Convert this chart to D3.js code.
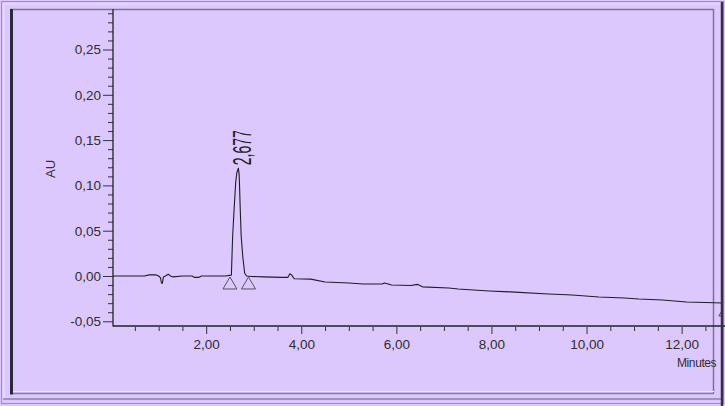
<!DOCTYPE html>
<html>
<head>
<meta charset="utf-8">
<script src="https://cdn.jsdelivr.net/npm/d3@7"></script>
<style>
  html, body { margin: 0; padding: 0; background: #dcc8fc; }
  svg { display: block; font-family: "Liberation Sans", Arial, sans-serif; }
</style>
</head>
<body>
<div id="chart"></div>
<script>
// chromatogram trace (minutes, AU)
const time = [
  0.04, 0.40, 0.70, 0.80, 0.95, 1.00, 1.04, 1.06, 1.08, 1.10, 1.16, 1.20, 1.25, 1.30, 1.50,
  1.70, 1.75, 1.85, 1.90, 2.20, 2.40, 2.53, 2.555, 2.58, 2.62, 2.645, 2.677, 2.695,
  2.715, 2.735, 2.77, 2.81, 2.85, 2.95, 3.20, 3.60, 3.72, 3.76, 3.80, 3.85, 4.20,
  4.50, 5.00, 5.30, 5.70, 5.75, 5.90, 6.30, 6.45, 6.55, 7.10, 7.30, 7.95, 8.40,
  9.20, 9.70, 10.26, 10.80, 11.10, 11.60, 12.10, 12.50, 12.87
];
const absorbance = [
  0.000, 0.000, 0.000, 0.0012, 0.0012, 0.000, -0.002, -0.008, -0.008, -0.001, 0.0005, 0.002, 0.000, -0.001, 0.000,
  0.000, -0.0015, -0.0015, 0.000, 0.000, 0.000, 0.001, 0.042, 0.067, 0.103, 0.114, 0.119, 0.111,
  0.076, 0.045, 0.021, 0.003, 0.000, -0.0005, -0.001, -0.0015, -0.0015, 0.0025, 0.001, -0.003, -0.0035,
  -0.0066, -0.0077, -0.0088, -0.0088, -0.0077, -0.0099, -0.0105, -0.0093, -0.012, -0.0132, -0.0143, -0.0165, -0.0175,
  -0.0199, -0.021, -0.0232, -0.0243, -0.0254, -0.0265, -0.0287, -0.0292, -0.0298
];

// integration markers (peak start / end)
const markerTimes = [2.50, 2.89, 12.93];
const markerValues = [0.000, 0.000, -0.0298];

// peak labels
const peakTimes = [2.677];
const peakHeights = [0.119];
const peakLabels = ["2,677"];

const yTicks = [-0.05, 0.00, 0.05, 0.10, 0.15, 0.20, 0.25];
const xTicks = [2, 4, 6, 8, 10, 12];

const width = 725;
const height = 406;

const svg = d3.select("#chart")
  .append("svg")
  .attr("width", width)
  .attr("height", height);

svg.append("rect")
  .attr("width", width)
  .attr("height", height)
  .attr("fill", "#dcc8fc");

// bevelled window frame
const frame = svg.append("g").attr("fill", "none");
frame.append("rect")
  .attr("x", 1.5).attr("y", 1.5)
  .attr("width", 722).attr("height", 402)
  .attr("stroke", "#9a90b4");
frame.append("line")
  .attr("x1", 3).attr("x2", 722).attr("y1", 4).attr("y2", 4)
  .attr("stroke", "#eee4ff");
frame.append("line")
  .attr("x1", 4).attr("x2", 4).attr("y1", 4).attr("y2", 400)
  .attr("stroke", "#eee4ff");
frame.append("line")
  .attr("x1", 10).attr("x2", 714).attr("y1", 9.5).attr("y2", 9.5)
  .attr("stroke", "#7d7592").attr("stroke-width", 1.5);
frame.append("line")
  .attr("x1", 713.5).attr("x2", 713.5).attr("y1", 9).attr("y2", 393.5)
  .attr("stroke", "#7d7592").attr("stroke-width", 1.5);
frame.append("line")
  .attr("x1", 12).attr("x2", 714).attr("y1", 391.5).attr("y2", 391.5)
  .attr("stroke", "#f2eaff");
frame.append("line")
  .attr("x1", 12).attr("x2", 714).attr("y1", 393.5).attr("y2", 393.5)
  .attr("stroke", "#857d9c").attr("stroke-width", 1.5);
frame.append("line")
  .attr("x1", 3).attr("x2", 722).attr("y1", 399).attr("y2", 399)
  .attr("stroke", "#8a82a2").attr("stroke-width", 1.5);
frame.append("line")
  .attr("x1", 11.5).attr("x2", 11.5).attr("y1", 9).attr("y2", 394.5)
  .attr("stroke", "#2b2a3a").attr("stroke-width", 3);

const xScale = d3.scaleLinear().domain([0.04, 12.87]).range([113, 723]);
const yScale = d3.scaleLinear().domain([-0.0552, 0.2947]).range([326, 9]);

const fmt = (d) => d3.format(".2f")(d).replace(".", ",").replace("\u2212", "-");

// y axis: majors every 0.05, minors every 0.01
const yAxis = d3.axisLeft(yScale)
  .tickValues(yTicks)
  .tickSize(10)
  .tickPadding(2)
  .tickFormat(fmt);
const yMinor = d3.axisLeft(yScale)
  .tickValues(d3.range(-5, 30).map((i) => i / 100).filter((v) => Math.round(v * 100) % 5 !== 0))
  .tickSize(5)
  .tickFormat("");

svg.append("g")
  .attr("transform", "translate(113,0)")
  .call(yMinor)
  .call((g) => g.select(".domain").remove())
  .call((g) => g.selectAll(".tick line").attr("stroke", "#333"));

svg.append("g")
  .attr("transform", "translate(113,0)")
  .call(yAxis)
  .call((g) => g.select(".domain").remove())
  .call((g) => g.selectAll(".tick line").attr("stroke", "#333"))
  .call((g) => g.selectAll(".tick text")
    .attr("fill", "#2e2e2e")
    .attr("font-size", "13.5px")
    .attr("font-family", "Liberation Sans, Arial, sans-serif"));

// x axis: majors every 2 min, minors every 0.5 min
svg.append("g")
  .attr("transform", "translate(0,327)")
  .call(d3.axisBottom(xScale)
    .tickValues(d3.range(1, 26).map((i) => i / 2).filter((v) => v % 2 !== 0))
    .tickSize(4)
    .tickFormat(""))
  .call((g) => g.select(".domain").remove())
  .call((g) => g.selectAll(".tick line").attr("stroke", "#333"));

svg.append("g")
  .attr("transform", "translate(0,327)")
  .call(d3.axisBottom(xScale)
    .tickValues(xTicks)
    .tickSize(7)
    .tickPadding(5)
    .tickFormat(fmt))
  .call((g) => g.select(".domain").remove())
  .call((g) => g.selectAll(".tick line").attr("stroke", "#333"))
  .call((g) => g.selectAll(".tick text")
    .attr("fill", "#2e2e2e")
    .attr("font-size", "13.5px")
    .attr("font-family", "Liberation Sans, Arial, sans-serif"));

// axis lines
svg.append("line")
  .attr("x1", 113).attr("x2", 113).attr("y1", 9).attr("y2", 326.5)
  .attr("stroke", "#222").attr("stroke-width", 1.3);
svg.append("line")
  .attr("x1", 113).attr("x2", 725).attr("y1", 326).attr("y2", 326)
  .attr("stroke", "#222").attr("stroke-width", 1.3);

// AU label
svg.append("text")
  .attr("transform", "translate(55,169) rotate(-90)")
  .attr("text-anchor", "middle")
  .attr("font-size", "13px")
  .attr("fill", "#333")
  .text("AU");

// Minutes label, clipped by the frame
svg.append("clipPath").attr("id", "clipR")
  .append("rect").attr("x", 0).attr("y", 0).attr("width", 721).attr("height", height);
svg.append("text")
  .attr("clip-path", "url(#clipR)")
  .attr("x", 677)
  .attr("y", 367)
  .attr("font-size", "12px")
  .attr("letter-spacing", "-0.4px")
  .attr("fill", "#2e2e2e")
  .text("Minutes");

// trace
const points = time.map((t, i) => [t, absorbance[i]]);
const line = d3.line()
  .x((d) => xScale(d[0]))
  .y((d) => yScale(d[1]));

svg.append("path")
  .datum(points)
  .attr("fill", "none")
  .attr("stroke", "#1e1e24")
  .attr("stroke-width", 1.1)
  .attr("stroke-linejoin", "round")
  .attr("d", line);

// integration triangles
svg.append("g")
  .attr("clip-path", "url(#clipR)")
  .selectAll("path")
  .data(markerTimes.map((t, i) => [t, markerValues[i]]))
  .enter()
  .append("path")
  .attr("d", (d) => {
    const x = xScale(d[0]);
    const y = yScale(d[1]) + 1;
    return `M${x},${y} L${x - 7},${y + 12} L${x + 7},${y + 12} Z`;
  })
  .attr("fill", "none")
  .attr("stroke", "#555")
  .attr("stroke-width", 1);

// peak label
svg.selectAll(".peak-label")
  .data(peakTimes.map((t, i) => ({ t, h: peakHeights[i], label: peakLabels[i] })))
  .enter()
  .append("text")
  .attr("class", "peak-label")
  .attr("transform", (d) =>
    `translate(${xScale(d.t) + 13},${yScale(d.h) - 3}) rotate(-90) scale(1,1.85)`)
  .attr("font-size", "14px")
  .attr("fill", "#222")
  .text((d) => d.label);

// dark right edge of the window
svg.append("line")
  .attr("x1", 722).attr("x2", 722).attr("y1", 2).attr("y2", 406)
  .attr("stroke", "#34323f").attr("stroke-width", 2.5);
</script>
</body>
</html>
